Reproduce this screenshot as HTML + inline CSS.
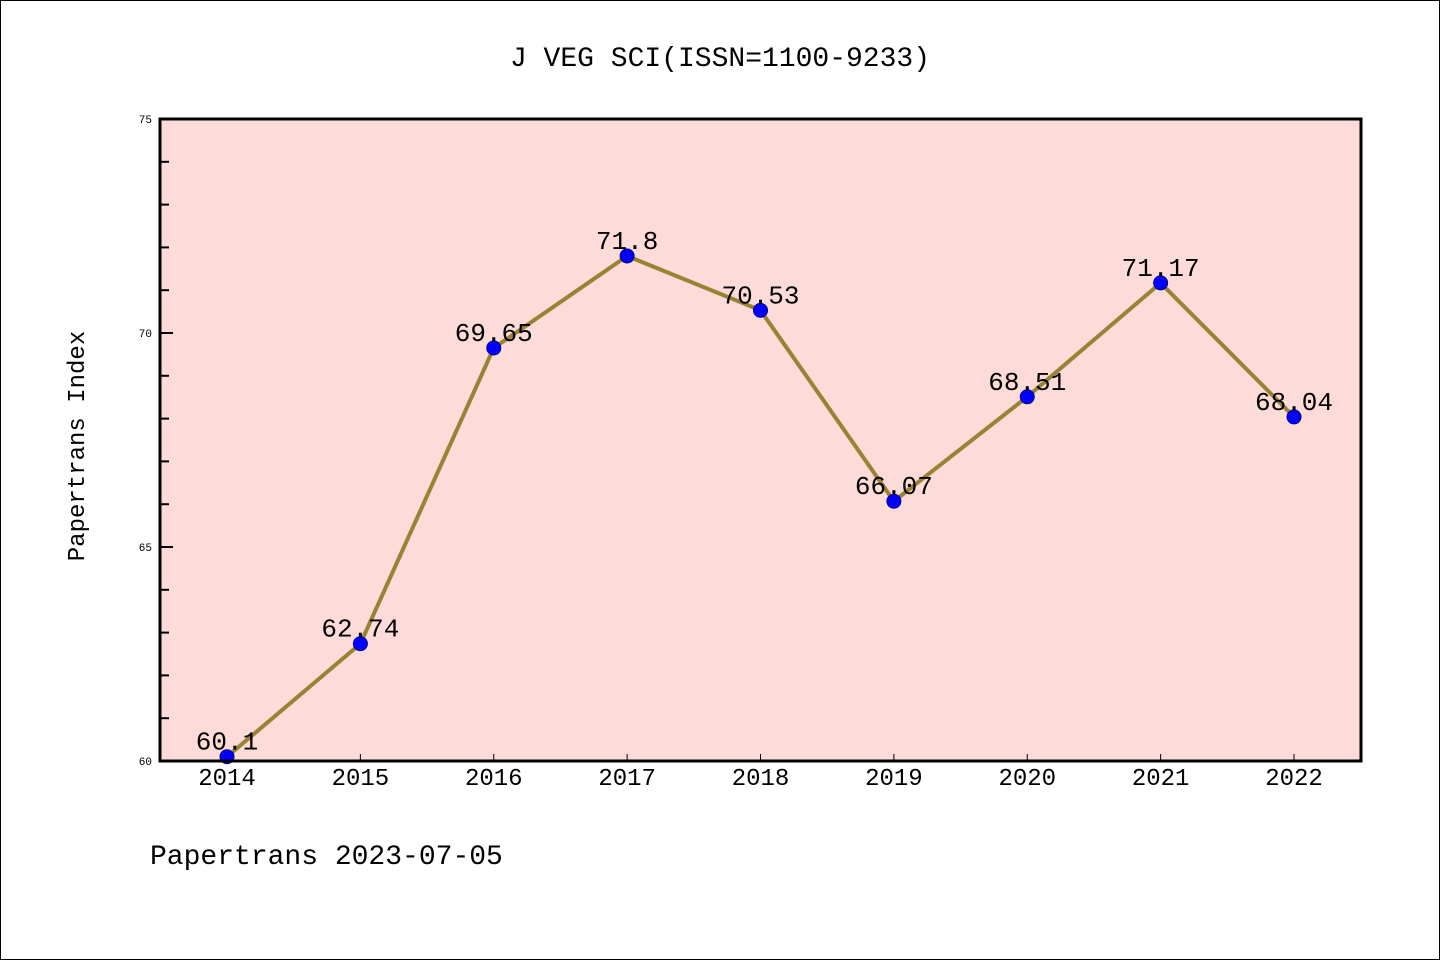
<!DOCTYPE html>
<html><head><meta charset="utf-8"><style>body{margin:0;background:#fff}svg{display:block}text{font-family:"Liberation Mono","DejaVu Sans Mono",monospace}</style></head>
<body>
<svg width="1440" height="960" viewBox="0 0 1440 960" xmlns="http://www.w3.org/2000/svg">
<rect x="0.5" y="0.5" width="1439" height="959" fill="#fff" stroke="#000"/>
<text x="720" y="66" font-size="28" text-anchor="middle">J VEG SCI(ISSN=1100-9233)</text>
<rect x="160" y="119" width="1201" height="642" fill="#fddbd8"/>
<g id="ticks"></g>
<g id="marks"></g>
<rect x="160" y="119" width="1201" height="642" fill="none" stroke="#000" stroke-width="3"/>
<text transform="translate(84,446) rotate(-90)" font-size="24" text-anchor="middle">Papertrans Index</text>
<text x="150" y="864" font-size="28">Papertrans 2023-07-05</text>
</svg>
<script>
const categories=["2014","2015","2016","2017","2018","2019","2020","2021","2022"];
const values=[60.1,62.74,69.65,71.8,70.53,66.07,68.51,71.17,68.04];
const yTicks=[60,65,70,75];
const NS="http://www.w3.org/2000/svg";
const x=i=>227+i*(1294-227)/8;
const y=v=>761-(v-60)*642/15;
function mk(t,a,p){const e=document.createElementNS(NS,t);for(const k in a)e.setAttribute(k,a[k]);p.appendChild(e);return e;}
const tg=document.getElementById('ticks'),mg=document.getElementById('marks');
for(let v=60;v<=75;v++){const l=mk('line',{x1:160,x2:v%5?169:173,y1:y(v),y2:y(v),stroke:'#000','stroke-width':2},tg);

}
yTicks.forEach(v=>{const t=mk('text',{x:152,y:y(v)+4,'font-size':11,'text-anchor':'end'},tg);t.textContent=v;

});
categories.forEach((c,i)=>{const l=mk('line',{x1:x(i),x2:x(i),y1:761,y2:754,stroke:'#000','stroke-width':1},tg);


const t=mk('text',{x:x(i),y:785,'font-size':24,'text-anchor':'middle'},tg);t.textContent=c;

});
const pl=mk('polyline',{points:values.map((v,i)=>x(i)+','+y(v)).join(' '),fill:'none',stroke:'#9a8235','stroke-width':4},mg);


values.forEach((v,i)=>{const c=mk('circle',{cx:x(i),cy:y(v),r:7,fill:'#0000ff',stroke:'#00008b','stroke-width':1},mg);


const t=mk('text',{x:x(i),y:y(v)-7,'font-size':26,'text-anchor':'middle'},mg);t.textContent=v;

});
</script>
</body></html>
